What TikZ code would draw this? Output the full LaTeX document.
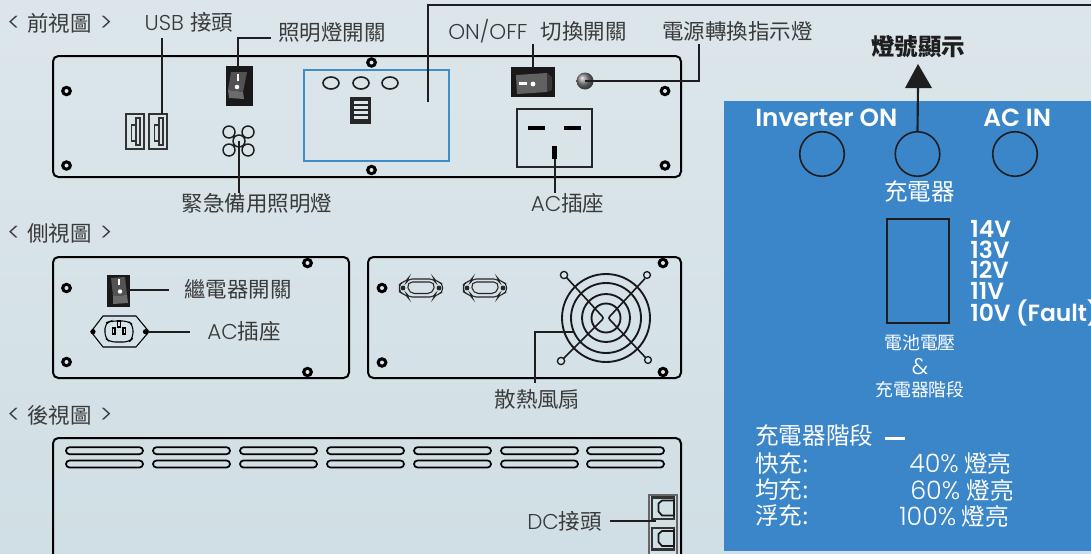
\documentclass[tikz,border=0pt]{standalone}
\usepackage{fontspec}
\setmainfont{Noto Sans CJK TC}
\newfontfamily\latf{Poppins Light}
\newfontfamily\latb{Poppins SemiBold}
\usetikzlibrary{arrows.meta}
\definecolor{ink}{HTML}{3A3A3A}
\definecolor{wire}{HTML}{1E1E1E}
\definecolor{panelblue}{HTML}{3B86C8}
\definecolor{framebl}{HTML}{3F8CCB}
\definecolor{bgtop}{HTML}{DCE6EA}
\definecolor{bgbot}{HTML}{D0DFE5}
\newcommand{\fs}[1]{\fontsize{#1}{#1}\selectfont}
\newcommand{\la}[1]{{\latf #1}}
\tikzset{
  lbl/.style={inner sep=0pt,text=ink,font=\fs{16.1},anchor=west},
  lblc/.style={lbl,anchor=center},
  wl/.style={inner sep=0pt,text=white,font=\fs{17.7},anchor=west},
  wlc/.style={wl,anchor=center},
  wls/.style={wl,font=\fs{13.4},anchor=center},
  wb/.style={inner sep=0pt,text=white,font=\fs{18.6}\latb,anchor=west},
  volt/.style={inner sep=0pt,text=white,font=\fs{17.6}\latb,anchor=west},
  conn/.style={wire,line width=1.7pt},
  thin wire/.style={wire,line width=1.5pt},
  panel/.style={draw=black,line width=1.5pt,rounded corners=4pt},
  vent/.style={draw=black,line width=1.3pt,rounded corners=2.6pt},
  circ/.style={draw=wire,line width=1.2pt},
  ledcirc/.style={circle,draw=wire,line width=1.2pt,minimum size=33.4pt,inner sep=0pt},
}
\newcommand{\screw}[2]{\fill[black] (#1,#2) circle [x radius=5.5,y radius=5.3];\fill[bgtop] (#1,#2) circle [radius=2];}
\begin{document}
\begin{tikzpicture}[x=0.75pt,y=-0.75pt]
\clip (0,0) rectangle (1091,553);
\shade[top color=bgtop,bottom color=bgbot] (0,0) rectangle (1091,553);
% ---- blue panel
\fill[panelblue] (724,101) rectangle (1091,551);

% ---- headings
\node[lbl] (hfront) at (7,23) {\la{\fs{19}<}\kern5.5pt 前視圖\kern6pt\la{\fs{19}>}};
\node[lbl] (hside) at (7,233) {\la{\fs{19}<}\kern5.5pt 側視圖\kern6pt\la{\fs{19}>}};
\node[lbl] (hback) at (7,415) {\la{\fs{19}<}\kern5.5pt 後視圖\kern6pt\la{\fs{19}>}};

% ---- front panel
\draw[panel] (53,56) rectangle (681,177);
\screw{66.5}{91}\screw{66.5}{165.5}\screw{665}{91}\screw{665}{165.5}\screw{371.5}{62.5}\screw{371.5}{170}
% USB
\foreach \ux in {126,149}{
  \draw[black!80,line width=1.3pt] (\ux,114) rectangle ++(18,35);
  \draw[black!80,line width=1.1pt] (\ux+5.5,125) rectangle ++(4.5,16);
  \draw[black!80,line width=1.1pt] (\ux+10,118) -- ++(0,27) -- ++(4,0) -- ++(0,-27) -- cycle;
}
% light switch
\fill[black!90] (226,66) rectangle (253,106);
\fill[black!68] (231,72) -- (247,72) -- (243,92) -- (228,90) -- cycle;
\fill[black!58] (228,90) -- (243,92) -- (244,99) -- (229,98) -- cycle;
\fill[white] (237,74) rectangle (239,81);
\fill[white] (237,87) circle [radius=2.3];
% emergency lamps
\draw[circ,line width=1.1pt] (229,132) circle [radius=6] (248,132) circle [radius=6] (229,150) circle [radius=6] (248,150) circle [radius=6] (239,141) circle [radius=6];
% blue frame
\draw[framebl,line width=2pt] (304,70) rectangle (449,161);
\draw[circ] (331,83) circle [x radius=8,y radius=6] (361,83) circle [x radius=8,y radius=6] (390,83) circle [x radius=8,y radius=6];
\fill[black!85] (350,97) rectangle (371,124);
\foreach \by in {101,106,111,116}{\fill[bgtop] (354,\by) rectangle (368,\by+2.6);}
% ON/OFF switch
\fill[black!90] (511,67) rectangle (555,97);
\fill[black!62] (516,75) -- (547,73) -- (547,92) -- (517,94) -- cycle;
\fill[black!78] (547,73) -- (552,77) -- (552,90) -- (547,92) -- cycle;
\fill[white] (519,82) rectangle (527,84.5);
\fill[white] (533,84) circle [radius=2.4];
% LED
\shade[ball color=black!50] (585,81) circle [radius=8.5];
% AC socket
\draw[black!85,line width=1pt] (517,109) rectangle (592,167);
\fill[black] (528,125.5) rectangle (545,129.5);
\fill[black] (564,125.5) rectangle (581,129.5);
\fill[black] (552,146) rectangle (557,159);

% ---- front labels
\node[lblc] (lusb) at (189,22) {\la{USB}\kern5pt 接頭};
\node[lbl] (llight) at (278,32) {照明燈開關};
\node[lbl] (lonoff) at (448,31) {\la{ON/OFF}\kern10pt 切換開關};
\node[lbl] (lled) at (662,31) {電源轉換指示燈};
\node[lblc] (lemerg) at (257,203) {緊急備用照明燈};
\node[lblc] (lac) at (567.5,203) {\la{AC}插座};
% ---- front connectors
\coordinate (usbA) at (162,38); \coordinate (usbB) at (162,114);
\draw[thin wire] (usbA) -- (usbB);
\coordinate (litA) at (271,38); \coordinate (litB) at (238,38); \coordinate (litC) at (238,69);
\draw[thin wire] (litA) -- (litB) -- (litC);
\coordinate (emgA) at (239,141); \coordinate (emgB) at (239,193);
\draw[thin wire] (emgA) -- (emgB);
\coordinate (oA) at (533,44); \coordinate (oB) at (533,68);
\draw[thin wire] (oA) -- (oB);
\coordinate (ledA) at (585,81); \coordinate (ledB) at (699,81); \coordinate (ledC) at (699,44);
\draw[thin wire] (ledA) -- (ledB) -- (ledC);
\coordinate (acA) at (555,159); \coordinate (acB) at (555,193);
\draw[thin wire] (acA) -- (acB);
\coordinate (frA) at (428,102); \coordinate (frB) at (428,5); \coordinate (frC) at (1091,5);
\draw[conn] (frA) -- (frB) -- (frC);

% ---- side panel left
\draw[panel] (53,257) rectangle (349,378);
\screw{66.5}{288}\screw{66.5}{362}\screw{307.5}{263}\screw{307.5}{372}
\fill[black!90] (107,275) rectangle (130,307);
\fill[black!68] (111,278) -- (125,277) -- (127,295) -- (113,296) -- cycle;
\fill[black!58] (113,296) -- (127,295) -- (128,303) -- (113,304) -- cycle;
\fill[white] (117.5,279) rectangle (119.5,285);
\fill[white] (120,291.5) circle [radius=2.2];
\draw[black,line width=.8pt] (91,331.7) -- (103,316) -- (136,316) -- (149,331.7) -- (136,347) -- (103,347) -- cycle;
\fill[black] (93,331.7) circle [radius=2.6] (145.5,331.7) circle [radius=2.6];
\draw[black,line width=.8pt,rounded corners=4pt] (105,323) -- (111,321) -- (128,321) -- (133,325) -- (133,338) -- (129,342) -- (110,342) -- (105,338) -- cycle;
\draw[black,line width=.8pt] (112.5,328) rectangle (115,334) (123,328) rectangle (125.5,334) (117.8,321) rectangle (120.3,327);
\node[lbl] (lrelay) at (184,289) {繼電器開關};
\node[lbl] (lac2) at (207,331) {\la{AC}插座};
\coordinate (rlA) at (128,289.5); \coordinate (rlB) at (169,289.5);
\draw[thin wire] (rlA) -- (rlB);
\coordinate (inA) at (148,331.5); \coordinate (inB) at (190,331.5);
\draw[thin wire] (inA) -- (inB);

% ---- side panel right
\draw[panel] (368,257) rectangle (681,378);
\screw{382}{288}\screw{382}{362.5}\screw{663}{263}\screw{663}{372}
\foreach \dx in {421,485}{
  \draw[black!85,line width=.8pt,rounded corners=3pt] (\dx-21.5,288) -- (\dx-21.5,283) -- (\dx-14,281) -- (\dx-13,279) -- (\dx+13,279) -- (\dx+14,281) -- (\dx+21.5,283) -- (\dx+21.5,293) -- (\dx+14,295) -- (\dx+13,297) -- (\dx-13,297) -- (\dx-14,295) -- (\dx-21.5,293) -- cycle;
  \draw[black!85,line width=.8pt,rounded corners=4pt] (\dx-14,282) -- (\dx+14,282) -- (\dx+12,293.5) -- (\dx-12,293.5) -- cycle;
  \fill[black!85] (\dx-18,288) circle [radius=2.4] (\dx+18,288) circle [radius=2.4];
}
\draw[black!90,line width=1.4pt] (606,318) circle [radius=44] (606,318) circle [radius=35] (606,318) circle [radius=24] (606,318) circle [radius=14.5];
\draw[black!90,line width=1.2pt] (566.5,277.5) -- (600,314) .. controls (604,318) and (604,318) .. (600,322) -- (563.5,358.5);
\draw[black!90,line width=1.2pt] (645,278.5) -- (612,314) .. controls (608,318) and (608,318) .. (612,322) -- (645.5,357.5);
\draw[black!90,line width=1pt,fill=bgtop] (564,275) circle [radius=3.6] (647,275) circle [radius=3.4] (561,361) circle [radius=3.6] (648,360) circle [radius=3.4];
\node[lblc] (lfan) at (537.5,399) {散熱風扇};
\coordinate (fnA) at (574,332); \coordinate (fnB) at (535,332); \coordinate (fnC) at (535,383);
\draw[conn] (fnA) -- (fnB) -- (fnC);

% ---- back panel
\draw[panel] (53,600) -- (53,438) -- (681,438) -- (681,600);
\foreach \vx in {66,153,240,327,414,501,587}{
  \draw[vent] (\vx,447.2) rectangle ++(77,7);
  \draw[vent] (\vx,460.5) rectangle ++(77,7);
}
\draw[black!60,line width=1.5pt] (649,495) rectangle (677,570);
\foreach \cy in {497.5,528}{
  \draw[black!80,line width=1.6pt] (652,\cy) rectangle ++(22,21.5);
  \draw[black!90,line width=1.3pt] (662,\cy+3) -- (674,\cy+3) -- (674,\cy+18) -- (662,\cy+18) -- (658.5,\cy+14) -- (658.5,\cy+6) -- cycle;
}
\node[lbl] (ldc) at (527,521) {\la{DC}接頭};
\coordinate (dcA) at (610,521); \coordinate (dcB) at (656,521);
\draw[conn] (dcA) -- (dcB);

% ---- right panel
\node[inner sep=0pt,text=wire,font=\fs{17.6}\bfseries] (lsig) at (918,47) {燈號顯示};
\node[ledcirc] (c1) at (822,154) {};
\node[ledcirc] (c2) at (917.5,154) {};
\node[ledcirc] (c3) at (1015,154) {};
\coordinate (arrTip) at (918,64);
\coordinate (arrBase) at (918,85);
\draw[wire,line width=1.6pt] (c2.north) -- (arrBase);
\fill[wire] (arrTip) -- (932,88) -- (905,88) -- cycle;
\node[wb] (tinv) at (755,118) {Inverter ON};
\node[wb] (tacin) at (983,118) {AC IN};
\node[wlc] (tchg) at (919.5,192) {充電器};
\draw[wire,line width=1.2pt] (887,219) rectangle (949,323);
\node[volt] (v14) at (970,229) {14V};
\node[volt] (v13) at (970,250) {13V};
\node[volt] (v12) at (970,270) {12V};
\node[volt] (v11) at (970,291) {11V};
\node[volt] (v10) at (970,313) {10V (Fault)};
\node[wls] (t1) at (920,343) {電池電壓};
\node[wls] (t2) at (920,367) {\la{\fs{17}\&}};
\node[wls] (t3) at (920,390) {充電器階段};
\node[wl] (s0) at (755,436) {充電器階段};
\fill[white] (885,437) rectangle (905,439.5);
\node[wl] (s1) at (755,464) {快充:};
\node[wl] (s2) at (755,490) {均充:};
\node[wl] (s3) at (755,516) {浮充:};
\node[wl] (p1) at (909,463) {\la{\fs{19}40\%} 燈亮};
\node[wl] (p2) at (910,490) {\la{\fs{19}60\%}\kern5pt 燈亮};
\node[wl] (p3) at (899,516) {\la{\fs{19}100\%} 燈亮};
\end{tikzpicture}
\end{document}
